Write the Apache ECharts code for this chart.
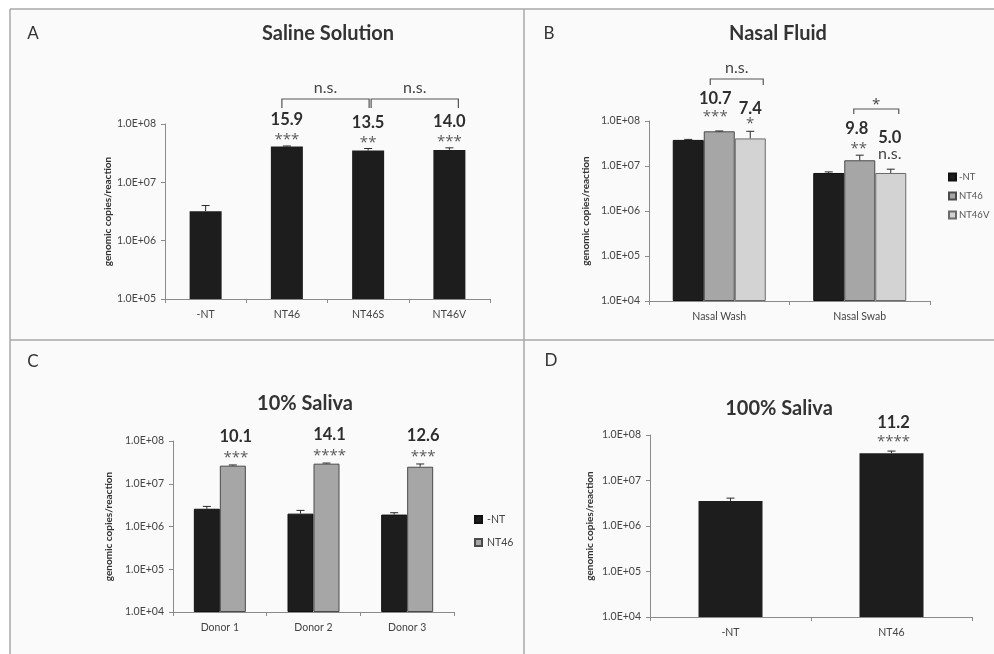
<!DOCTYPE html>
<html>
<head>
<meta charset="utf-8">
<script src="https://cdn.jsdelivr.net/npm/echarts@6/dist/echarts.min.js"></script>
<style>
  html, body { margin: 0; padding: 0; background: #ffffff; }
  #chart { width: 994px; height: 654px; }
</style>
</head>
<body>
<div id="chart"></div>
<script>
// ---- Panel A: saline solution ----
const salineCategories = ['-NT', 'NT46', 'NT46S', 'NT46V'];
const salineCopies = [3.2e6, 4.1e7, 3.5e7, 3.6e7];
const salineErrors = [0.8e6, 0.1e7, 0.3e7, 0.3e7];
const salineFold = ['', '15.9', '13.5', '14.0'];
const salineStars = ['', '***', '**', '***'];

// ---- Panel B: nasal fluid ----
const nasalCategories = ['Nasal Wash', 'Nasal Swab'];
const nasalSeriesNames = ['-NT', 'NT46', 'NT46V'];
const nasalNT = [3.8e7, 7.0e6];
const nasalNT46 = [5.9e7, 1.34e7];
const nasalNT46V = [4.1e7, 7.0e6];
const nasalErrNT = [0.1e7, 0.4e6];
const nasalErrNT46 = [0.1e7, 0.4e7];
const nasalErrNT46V = [1.8e7, 1.5e6];
const nasalFoldNT46 = ['10.7', '9.8'];
const nasalStarsNT46 = ['***', '**'];
const nasalFoldNT46V = ['7.4', '5.0'];
const nasalStarsNT46V = ['*', 'n.s.'];

// ---- Panel C: 10% saliva ----
const donorCategories = ['Donor 1', 'Donor 2', 'Donor 3'];
const saliva10NT = [2.6e6, 2.0e6, 1.9e6];
const saliva10NT46 = [2.65e7, 2.95e7, 2.5e7];
const saliva10ErrNT = [0.35e6, 0.38e6, 0.2e6];
const saliva10ErrNT46 = [0.1e7, 0.1e7, 0.4e7];
const saliva10Fold = ['10.1', '14.1', '12.6'];
const saliva10Stars = ['***', '****', '***'];

// ---- Panel D: 100% saliva ----
const saliva100Categories = ['-NT', 'NT46'];
const saliva100Copies = [3.55e6, 3.98e7];
const saliva100Errors = [0.55e6, 0.45e7];
const saliva100Fold = ['', '11.2'];
const saliva100Stars = ['', '****'];

// ---- Log-axis tick labels ----
const decadeExponents = [4, 5, 6, 7, 8];
const decadeLabels = ['1.0E+04', '1.0E+05', '1.0E+06', '1.0E+07', '1.0E+08'];

// ---- Styling ----
const FONT = 'Lato, "Open Sans", sans-serif';
const STAR_FONT = '"Open Sans", Lato, sans-serif';
const AXIS_COLOR = '#8a8a8a';
const BLACK = '#1d1d1d';
const MID_GRAY = '#a6a6a6';
const LIGHT_GRAY = '#d3d3d3';

function decadeFormatter(v) {
  const e = Math.round(Math.log10(v));
  const i = decadeExponents.indexOf(e);
  return i >= 0 ? decadeLabels[i] : '';
}

function xAxisFor(gridIndex, data) {
  return {
    type: 'category', gridIndex, data,
    axisLine: { lineStyle: { color: AXIS_COLOR, width: 1 } },
    axisTick: { show: true, length: 4, lineStyle: { color: AXIS_COLOR } },
    axisLabel: { fontFamily: FONT, fontSize: 10.5, color: '#444', margin: 10 }
  };
}

function yAxisFor(gridIndex, min, nameGap) {
  return {
    type: 'log', logBase: 10, gridIndex, min, max: 1e8, startValue: min,
    axisLine: { show: true, lineStyle: { color: AXIS_COLOR, width: 1 } },
    axisTick: { show: true, length: 4, lineStyle: { color: AXIS_COLOR } },
    splitLine: { show: false },
    minorTick: { show: false },
    axisLabel: { formatter: decadeFormatter, fontFamily: FONT, fontSize: 10.5, color: '#444', margin: 9 },
    name: 'genomic copies/reaction', nameLocation: 'middle', nameGap,
    nameTextStyle: { fontFamily: FONT, fontWeight: 'bold', fontSize: 10, color: '#333' }
  };
}

// x offset of a bar inside its category for side-by-side bars
function barOffset(s, nSeries, barWidth) {
  return (s - (nSeries - 1) / 2) * barWidth;
}

// Error bars: upper whisker with a small cap
function errorBarSeries(gridIndex, groups, nSeries, barWidth) {
  const data = [];
  groups.forEach((g, s) => g.values.forEach((v, c) => data.push([c, v, g.errors[c], s])));
  return {
    type: 'custom', xAxisIndex: gridIndex, yAxisIndex: gridIndex, z: 5, silent: true,
    data,
    renderItem(params, api) {
      const c = api.value(0), v = api.value(1), e = api.value(2), s = api.value(3);
      const base = api.coord([c, v]);
      const top = api.coord([c, v + e]);
      const x = base[0] + barOffset(s, nSeries, barWidth);
      const st = { stroke: '#2a2a2a', lineWidth: 1 };
      return {
        type: 'group', children: [
          { type: 'line', shape: { x1: x, y1: base[1], x2: x, y2: top[1] }, style: st },
          { type: 'line', shape: { x1: x - 4, y1: top[1], x2: x + 4, y2: top[1] }, style: st }
        ]
      };
    }
  };
}

// Fold-change values and significance stars above the error bars
function annotationSeries(gridIndex, items, nSeries, barWidth) {
  return {
    type: 'custom', xAxisIndex: gridIndex, yAxisIndex: gridIndex, z: 6, silent: true,
    data: items.map(it => [it.c, it.top]),
    renderItem(params, api) {
      const it = items[params.dataIndex];
      const p = api.coord([api.value(0), api.value(1)]);
      const x = p[0] + barOffset(it.s, nSeries, barWidth) + (it.dx || 0);
      const isNs = it.stars === 'n.s.';
      return {
        type: 'group', children: [
          { type: 'text', x, y: p[1] + it.dyFold,
            style: { text: it.fold, align: 'center', verticalAlign: 'middle',
                     font: 'bold 16.5px ' + FONT, fill: '#2e2e2e' } },
          { type: 'text', x: x + (it.dxStars || 0), y: p[1] + it.dyStars + (isNs ? 0 : 3),
            style: { text: it.stars, align: 'center', verticalAlign: 'middle',
                     font: isNs ? '16px ' + FONT : '15px ' + STAR_FONT, fill: isNs ? '#444' : '#5a5a5a' } }
        ]
      };
    }
  };
}

// Comparison brackets drawn above the plot area
function bracketSeries(gridIndex, items, nSeries, barWidth) {
  return {
    type: 'custom', xAxisIndex: gridIndex, yAxisIndex: gridIndex, z: 6, silent: true,
    data: items.map(it => [it.c1, 1e8]),
    renderItem(params, api) {
      const it = items[params.dataIndex];
      const a = api.coord([it.c1, 1e8]);
      const b = api.coord([it.c2, 1e8]);
      const x1 = a[0] + barOffset(it.s1, nSeries, barWidth) + it.dx1;
      const x2 = b[0] + barOffset(it.s2, nSeries, barWidth) + it.dx2;
      const y = a[1] + it.dy;
      const st = { stroke: '#555', lineWidth: 1.2, fill: null };
      const isStar = it.text === '*';
      return {
        type: 'group', children: [
          { type: 'polyline', shape: { points: [[x1, y + it.leg], [x1, y], [x2, y], [x2, y + it.leg]] }, style: st },
          { type: 'text', x: (x1 + x2) / 2, y: y + (isStar ? -4 : -11),
            style: { text: it.text, align: 'center', verticalAlign: 'middle',
                     font: isStar ? '15px ' + STAR_FONT : '16px ' + FONT, fill: '#444' } }
        ]
      };
    }
  };
}

const grids = [
  { left: 165, top: 124, width: 325, height: 175 },
  { left: 649, top: 121, width: 281, height: 180 },
  { left: 173, top: 441, width: 281, height: 171 },
  { left: 650, top: 435, width: 322, height: 182 }
];

// Bar widths per panel
const BW_A = 32, BW_B = 31, BW_C = 26, BW_D = 64;

const series = [
  // A
  { type: 'bar', name: 'Saline', xAxisIndex: 0, yAxisIndex: 0, data: salineCopies, barWidth: BW_A,
    itemStyle: { color: BLACK } },
  errorBarSeries(0, [{ values: salineCopies, errors: salineErrors }], 1, BW_A),
  annotationSeries(0, salineFold.map((f, c) => ({
    c, s: 0, top: salineCopies[c] + salineErrors[c], fold: f, stars: salineStars[c], dyFold: -26, dyStars: -9
  })).filter(it => it.fold), 1, BW_A),
  bracketSeries(0, [
    { c1: 1, s1: 0, dx1: -5, c2: 2, s2: 0, dx2: 1, dy: -25, leg: 9, text: 'n.s.' },
    { c1: 2, s1: 0, dx1: 3, c2: 3, s2: 0, dx2: 9, dy: -25, leg: 9, text: 'n.s.' }
  ], 1, BW_A),

  // B
  { type: 'bar', name: nasalSeriesNames[0], xAxisIndex: 1, yAxisIndex: 1, data: nasalNT, barWidth: BW_B, barGap: '0%',
    itemStyle: { color: BLACK, borderColor: '#111', borderWidth: 1 } },
  { type: 'bar', name: nasalSeriesNames[1], xAxisIndex: 1, yAxisIndex: 1, data: nasalNT46, barWidth: BW_B, barGap: '0%',
    itemStyle: { color: MID_GRAY, borderColor: '#4a4a4a', borderWidth: 1 } },
  { type: 'bar', name: nasalSeriesNames[2], xAxisIndex: 1, yAxisIndex: 1, data: nasalNT46V, barWidth: BW_B, barGap: '0%',
    itemStyle: { color: LIGHT_GRAY, borderColor: '#6a6a6a', borderWidth: 1 } },
  errorBarSeries(1, [
    { values: nasalNT, errors: nasalErrNT },
    { values: nasalNT46, errors: nasalErrNT46 },
    { values: nasalNT46V, errors: nasalErrNT46V }
  ], 3, BW_B),
  annotationSeries(1, [
    { c: 0, s: 1, top: nasalNT46[0] + nasalErrNT46[0], fold: nasalFoldNT46[0], stars: nasalStarsNT46[0], dx: -4, dyFold: -32, dyStars: -17 },
    { c: 0, s: 2, top: nasalNT46V[0] + nasalErrNT46V[0], fold: nasalFoldNT46V[0], stars: nasalStarsNT46V[0], dx: 0, dyFold: -23, dyStars: -11 },
    { c: 1, s: 1, top: nasalNT46[1] + nasalErrNT46[1], fold: nasalFoldNT46[1], stars: nasalStarsNT46[1], dx: -3, dxStars: 2, dyFold: -27, dyStars: -9 },
    { c: 1, s: 2, top: nasalNT46V[1] + nasalErrNT46V[1], fold: nasalFoldNT46V[1], stars: nasalStarsNT46V[1], dx: -1, dyFold: -32, dyStars: -15 }
  ], 3, BW_B),
  bracketSeries(1, [
    { c1: 0, s1: 1, dx1: -9, c2: 0, s2: 2, dx2: 13, dy: -42, leg: 6, text: 'n.s.' },
    { c1: 1, s1: 1, dx1: -6, c2: 1, s2: 2, dx2: 8, dy: -12, leg: 5, text: '*' }
  ], 3, BW_B),

  // C
  { type: 'bar', name: '-NT', xAxisIndex: 2, yAxisIndex: 2, data: saliva10NT, barWidth: BW_C, barGap: '0%',
    itemStyle: { color: BLACK, borderColor: '#111', borderWidth: 1 } },
  { type: 'bar', name: 'NT46', xAxisIndex: 2, yAxisIndex: 2, data: saliva10NT46, barWidth: BW_C, barGap: '0%',
    itemStyle: { color: MID_GRAY, borderColor: '#4a4a4a', borderWidth: 1 } },
  errorBarSeries(2, [
    { values: saliva10NT, errors: saliva10ErrNT },
    { values: saliva10NT46, errors: saliva10ErrNT46 }
  ], 2, BW_C),
  annotationSeries(2, saliva10Fold.map((f, c) => ({
    c, s: 1, top: saliva10NT46[c] + saliva10ErrNT46[c], fold: f, stars: saliva10Stars[c], dx: 3, dyFold: -28, dyStars: -10
  })), 2, BW_C),

  // D
  { type: 'bar', name: '100% Saliva', xAxisIndex: 3, yAxisIndex: 3, data: saliva100Copies, barWidth: BW_D,
    itemStyle: { color: BLACK } },
  errorBarSeries(3, [{ values: saliva100Copies, errors: saliva100Errors }], 1, BW_D),
  annotationSeries(3, saliva100Fold.map((f, c) => ({
    c, s: 0, top: saliva100Copies[c] + saliva100Errors[c], fold: f, stars: saliva100Stars[c], dx: 2, dyFold: -28, dyStars: -12
  })).filter(it => it.fold), 1, BW_D)
];

const BORDER = { stroke: '#a9a9a9', lineWidth: 1.5 };
function panelText(x, y, text, font) {
  return { type: 'text', x, y, z: 10,
           style: { text, font, fill: '#333', align: 'center', verticalAlign: 'middle' } };
}

const option = {
  animation: false,
  backgroundColor: '#ffffff',
  grid: grids,
  xAxis: [
    xAxisFor(0, salineCategories),
    xAxisFor(1, nasalCategories),
    xAxisFor(2, donorCategories),
    xAxisFor(3, saliva100Categories)
  ],
  yAxis: [
    yAxisFor(0, 1e5, 52),
    yAxisFor(1, 1e4, 58),
    yAxisFor(2, 1e4, 59),
    yAxisFor(3, 1e4, 55)
  ],
  legend: [
    { data: nasalSeriesNames, orient: 'vertical', left: 948, top: 172, itemWidth: 7, itemHeight: 7, itemGap: 9,
      icon: 'rect', selectedMode: false, padding: 0,
      textStyle: { fontFamily: FONT, fontSize: 9.5, color: '#555', padding: [0, 0, 0, -2] } },
    { data: ['-NT', 'NT46'], orient: 'vertical', left: 474, top: 514, itemWidth: 7, itemHeight: 7, itemGap: 12,
      icon: 'rect', selectedMode: false, padding: 0,
      textStyle: { fontFamily: FONT, fontSize: 10.5, color: '#444' } }
  ],
  graphic: [
    { type: 'rect', z: -10, shape: { x: 10, y: 9, width: 984, height: 645 }, style: { fill: '#fafafa' } },
    { type: 'line', z: 10, shape: { x1: 10, y1: 9, x2: 994, y2: 9 }, style: BORDER },
    { type: 'line', z: 10, shape: { x1: 10, y1: 9, x2: 10, y2: 654 }, style: BORDER },
    { type: 'line', z: 10, shape: { x1: 524, y1: 9, x2: 524, y2: 654 }, style: BORDER },
    { type: 'line', z: 10, shape: { x1: 10, y1: 340, x2: 994, y2: 340 }, style: BORDER },
    panelText(33, 34, 'A', '17px ' + FONT),
    panelText(549, 34, 'B', '17px ' + FONT),
    panelText(33, 362, 'C', '17px ' + FONT),
    panelText(551, 361, 'D', '17px ' + FONT),
    panelText(328, 34, 'Saline Solution', 'bold 20px ' + FONT),
    panelText(778, 34, 'Nasal Fluid', 'bold 20px ' + FONT),
    panelText(305, 404, '10% Saliva', 'bold 20px ' + FONT),
    panelText(779, 409, '100% Saliva', 'bold 20px ' + FONT)
  ],
  series
};

const chart = echarts.init(document.getElementById('chart'), null, { renderer: 'canvas' });
chart.setOption(option);
</script>
</body>
</html>
